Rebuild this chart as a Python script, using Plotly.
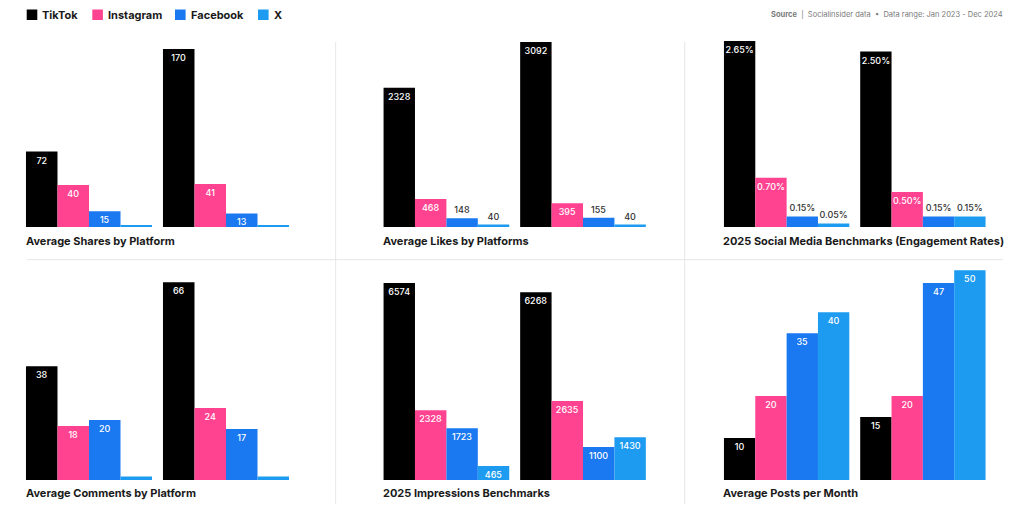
import plotly.graph_objects as go

# ---------------- data ----------------
groups = ["Group A", "Group B"]
platforms = ["TikTok", "Instagram", "Facebook", "X"]

shares_tiktok = [72, 170]
shares_instagram = [40, 41]
shares_facebook = [15, 13]
shares_x = [2, 2]

likes_tiktok = [2328, 3092]
likes_instagram = [468, 395]
likes_facebook = [148, 155]
likes_x = [40, 40]

engagement_tiktok = [2.65, 2.50]
engagement_instagram = [0.70, 0.50]
engagement_facebook = [0.15, 0.15]
engagement_x = [0.05, 0.15]

comments_tiktok = [38, 66]
comments_instagram = [18, 24]
comments_facebook = [20, 17]
comments_x = [1.2, 1.2]

impressions_tiktok = [6574, 6268]
impressions_instagram = [2328, 2635]
impressions_facebook = [1723, 1100]
impressions_x = [465, 1430]

posts_tiktok = [10, 15]
posts_instagram = [20, 20]
posts_facebook = [35, 47]
posts_x = [40, 50]

titles = [
    "Average Shares by Platform",
    "Average Likes by Platforms",
    "2025 Social Media Benchmarks (Engagement Rates)",
    "Average Comments by Platform",
    "2025 Impressions Benchmarks",
    "Average Posts per Month",
]

# ---------------- styling / layout ----------------
colors = {"TikTok": "#000000", "Instagram": "#FF4391", "Facebook": "#1A78F0", "X": "#1D9BF0"}
W, H = 1024, 512

panels = [
    dict(series=[shares_tiktok, shares_instagram, shares_facebook, shares_x], fmt="{:g}",
         ymax=178.6, hide=["X"]),
    dict(series=[likes_tiktok, likes_instagram, likes_facebook, likes_x], fmt="{:g}",
         ymax=3125, hide=[]),
    dict(series=[engagement_tiktok, engagement_instagram, engagement_facebook, engagement_x],
         fmt="{:.2f}%", ymax=2.664, hide=[]),
    dict(series=[comments_tiktok, comments_instagram, comments_facebook, comments_x], fmt="{:g}",
         ymax=70.1, hide=["X"]),
    dict(series=[impressions_tiktok, impressions_instagram, impressions_facebook, impressions_x],
         fmt="{:g}", ymax=7008, hide=[]),
    dict(series=[posts_tiktok, posts_instagram, posts_facebook, posts_x], fmt="{:g}",
         ymax=50.07, hide=[]),
]

# pixel geometry -> paper domains
x_domains_px = [(20.5, 294.5), (378.1, 651.3), (718.5, 991.0)]
y_domains_px = [(227, 40), (480, 270)]  # (bottom, top)
title_x_px = [24.2, 381.2, 721.2]
title_y_px = [240.7, 493.3]
legend_key_x_px = [26.7, 92.3, 175.0, 258.0]

LABEL_FONT = "Inter"
fig = go.Figure()

for i, p in enumerate(panels):
    row, col = divmod(i, 3)
    n = i + 1
    xa = "x" if n == 1 else f"x{n}"
    ya = "y" if n == 1 else f"y{n}"
    for j, plat in enumerate(platforms):
        vals = p["series"][j]
        if plat in p["hide"]:
            texts = ["" for _ in vals]
        else:
            texts = [p["fmt"].format(v) for v in vals]
        positions = ["inside" if v / p["ymax"] >= 0.06 else "outside" for v in vals]
        fig.add_trace(go.Bar(
            x=groups, y=vals, name=plat, xaxis=xa, yaxis=ya,
            marker=dict(color=colors[plat], line=dict(width=0)),
            text=texts, textposition=positions, insidetextanchor="end",
            textangle=0, constraintext="none", cliponaxis=False,
            insidetextfont=dict(family=LABEL_FONT, size=9, color="#ffffff", weight=500),
            outsidetextfont=dict(family=LABEL_FONT, size=9, color="#333333", weight=500),
            legendgroup=plat, showlegend=False, hoverinfo="skip",
        ))
    x0, x1 = x_domains_px[col]
    yb, yt = y_domains_px[row]
    axis_common = dict(showgrid=False, zeroline=False, showticklabels=False,
                       showline=False, ticks="", fixedrange=True)
    fig.layout[f"xaxis{'' if n == 1 else n}"] = dict(
        domain=[x0 / W, x1 / W], anchor=ya, range=[-0.5, 1.5], type="category", **axis_common)
    fig.layout[f"yaxis{'' if n == 1 else n}"] = dict(
        domain=[1 - yb / H, 1 - yt / H], anchor=xa, range=[0, p["ymax"]], **axis_common)
    fig.add_annotation(
        text=f"<b>{titles[i]}</b>", xref="paper", yref="paper",
        x=title_x_px[col] / W, y=1 - title_y_px[row] / H, xanchor="left", yanchor="middle",
        showarrow=False, font=dict(family="Inter", size=11, color="#1a1a1a"))

# legend (keys + labels)
for plat, kx in zip(platforms, legend_key_x_px):
    fig.add_shape(type="rect", xref="paper", yref="paper",
                  x0=kx / W, x1=(kx + 10.6) / W, y0=1 - 20 / H, y1=1 - 9.5 / H,
                  fillcolor=colors[plat], line=dict(width=0))
    fig.add_annotation(text=f"<b>{plat}</b>", xref="paper", yref="paper",
                       x=(kx + 13.5) / W, y=1 - 15 / H, xanchor="left", yanchor="middle",
                       showarrow=False, font=dict(family="Inter", size=11, color="#1a1a1a"))

# separators
line_col = "#e6e6e6"
for xs in (335.7, 684.7):
    fig.add_shape(type="line", xref="paper", yref="paper", x0=xs / W, x1=xs / W,
                  y0=1 - 42 / H, y1=1 - 504 / H, line=dict(color=line_col, width=1))
fig.add_shape(type="line", xref="paper", yref="paper", x0=26.7 / W, x1=1003 / W,
              y0=1 - 259.7 / H, y1=1 - 259.7 / H, line=dict(color=line_col, width=1))

fig.add_annotation(
    text="<b>Source</b>  |  Socialinsider data  •  Data range: Jan 2023 - Dec 2024",
    xref="paper", yref="paper", x=1005 / W, y=1 - 14 / H, xanchor="right", yanchor="middle",
    showarrow=False, font=dict(family="Inter", size=7.5, color="#7a7a7a"))

fig.update_layout(
    width=W, height=H, margin=dict(l=0, r=0, t=0, b=0),
    paper_bgcolor="#ffffff", plot_bgcolor="#ffffff",
    barmode="group", bargap=0.08, bargroupgap=0,
    showlegend=False,
)

fig.write_html("out.html",
               config={"displayModeBar": False},
               post_script="document.body.style.margin='0';document.body.style.padding='0';")
